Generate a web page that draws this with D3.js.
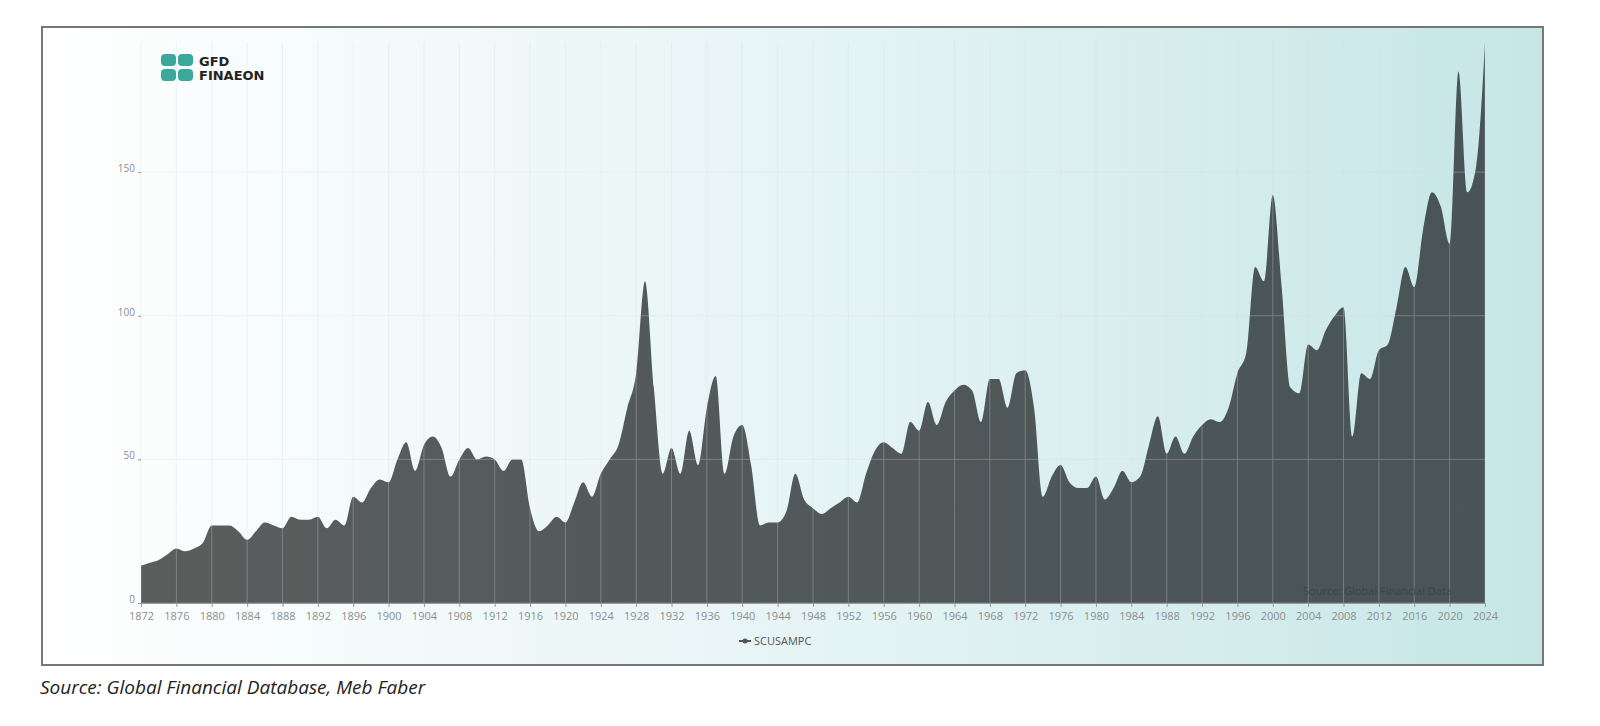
<!DOCTYPE html>
<html><head><meta charset="utf-8">
<script src="https://cdn.jsdelivr.net/npm/d3@7"></script>
<style>body{margin:0;background:#fff;}svg{display:block;}</style>
</head><body><svg id="viz" width="1600" height="726"></svg>
<script>
const years = d3.range(1872, 2025);
const values = [13,14,15,17,19,18,19,21,27,27,27,25,22,25,28,27,26,30,29,29,30,26,29,27,
  37,35,40,43,42,50,56,46,55,58,54,44,50,54,50,51,50,46,50,50,33,25,27,30,28,35,42,37,
  45,50,55,68,80,112,75,45,54,45,60,48,68,79,45,58,62,48,27,28,28,32,45,36,33,31,33,35,
  37,35,45,53,56,54,52,63,60,70,62,70,74,76,74,63,78,78,68,80,81,68,37,44,48,42,40,40,
  44,36,40,46,42,44,55,65,52,58,52,58,62,64,63,68,80,87,117,112,142,110,75,73,90,88,95,
  100,103,58,80,78,88,90,103,117,110,130,143,138,125,185,143,152,195];
const yTicks = [0, 50, 100, 150];
const xTicks = d3.range(1872, 2025, 4);
const seriesName = 'SCUSAMPC';

const svg = d3.select('#viz');
const defs = svg.append('defs');
const bg = defs.append('linearGradient').attr('id', 'bg');
bg.append('stop').attr('offset', '0%').attr('stop-color', '#ffffff');
bg.append('stop').attr('offset', '55%').attr('stop-color', '#e4f3f4');
bg.append('stop').attr('offset', '100%').attr('stop-color', '#c6e6e6');
const fillG = defs.append('linearGradient').attr('id', 'fillG');
fillG.append('stop').attr('offset', '0%').attr('stop-color', '#5a5d5c');
fillG.append('stop').attr('offset', '100%').attr('stop-color', '#485457');

svg.append('rect').attr('x', 42).attr('y', 27).attr('width', 1501).attr('height', 638)
  .attr('fill', 'url(#bg)').attr('stroke', '#777').attr('stroke-width', 2);

const x = d3.scaleLinear().domain([1872, 2024]).range([141, 1485]);
const y = d3.scaleLinear().domain([0, 195.3]).range([603, 42]);

const grid = svg.append('g');
grid.selectAll('line.v').data(xTicks).join('line')
  .attr('x1', d => x(d)).attr('x2', d => x(d)).attr('y1', 42).attr('y2', 603)
  .attr('stroke', '#d8dcdc').attr('stroke-width', 1);
grid.selectAll('line.h').data(yTicks).join('line').attr('class', 'h')
  .attr('x1', 141).attr('x2', 1485).attr('y1', d => y(d)).attr('y2', d => y(d))
  .attr('stroke', '#e2d6d6').attr('stroke-width', 1);

const data = years.map((yr, i) => ({ yr, v: values[i] }));
const area = d3.area().x(d => x(d.yr)).y0(y(0)).y1(d => y(d.v)).curve(d3.curveMonotoneX);
svg.append('path').datum(data).attr('d', area).attr('fill', 'url(#fillG)');

grid.raise().attr('opacity', 0.3);

const xAxis = svg.append('g').attr('transform', 'translate(0,603)')
  .call(d3.axisBottom(x).tickValues(xTicks).tickFormat(d3.format('d')).tickSize(4).tickPadding(5));
xAxis.select('.domain').attr('stroke', '#999');
xAxis.selectAll('line').attr('stroke', '#999');
xAxis.selectAll('text').attr('fill', '#8a8f90').attr('font-size', 11)
  .attr('font-family', 'Open Sans, sans-serif');

const yAxis = svg.append('g').attr('transform', 'translate(141,0)')
  .call(d3.axisLeft(y).tickValues(yTicks).tickSize(3));
yAxis.select('.domain').remove();
yAxis.selectAll('line').attr('stroke', '#999');
yAxis.selectAll('text').attr('fill', '#8a8f90').attr('font-size', 10).attr('dy', '-0.05em')
  .attr('font-family', 'Open Sans, sans-serif');

const logo = svg.append('g').attr('transform', 'translate(161,54)');
[[0,0],[17,0],[0,15],[17,15]].forEach(([dx, dy]) =>
  logo.append('rect').attr('x', dx).attr('y', dy).attr('width', 15).attr('height', 12)
    .attr('rx', 4).attr('fill', '#3aa89a'));
logo.append('text').attr('x', 38).attr('y', 12).text('GFD')
  .attr('font-family', 'DejaVu Sans, sans-serif').attr('font-weight', 'bold')
  .attr('font-size', 13).attr('fill', '#222');
logo.append('text').attr('x', 38).attr('y', 26).text('FINAEON')
  .attr('font-family', 'DejaVu Sans, sans-serif').attr('font-weight', 'bold')
  .attr('font-size', 13).attr('fill', '#222');

svg.append('text').attr('x', 1452).attr('y', 595).attr('text-anchor', 'end')
  .text('Source: Global Financial Data').attr('font-size', 11)
  .attr('font-family', 'Open Sans, sans-serif').attr('fill', '#3e4444');

svg.append('line').attr('x1', 739).attr('x2', 751).attr('y1', 641).attr('y2', 641)
  .attr('stroke', '#555').attr('stroke-width', 2);
svg.append('circle').attr('cx', 745).attr('cy', 641).attr('r', 2.5).attr('fill', '#555');
svg.append('text').attr('x', 754).attr('y', 645).text(seriesName)
  .attr('font-size', 11).attr('font-family', 'Open Sans, sans-serif').attr('fill', '#555');

svg.append('text').attr('x', 40).attr('y', 694)
  .text('Source: Global Financial Database, Meb Faber')
  .attr('font-size', 19).attr('font-style', 'italic')
  .attr('font-family', 'Open Sans, sans-serif').attr('fill', '#222');
</script></body></html>
